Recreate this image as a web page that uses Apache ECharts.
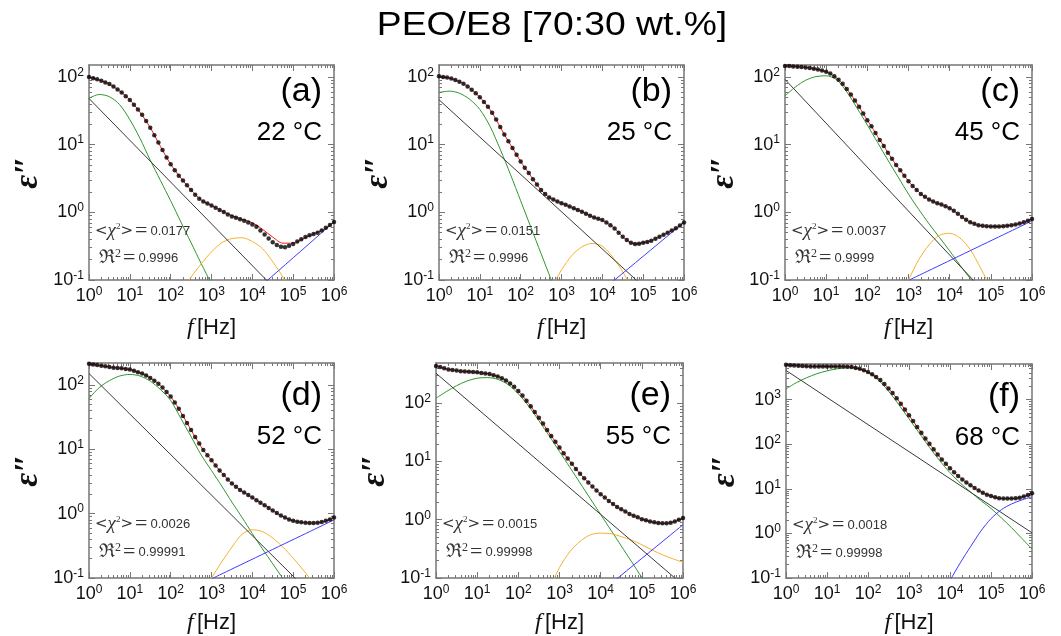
<!DOCTYPE html>
<html><head><meta charset="utf-8">
<script src="https://cdn.jsdelivr.net/npm/echarts@6/dist/echarts.min.js"></script>
<style>html,body{margin:0;padding:0;background:#fff}#c{width:1061px;height:636px}</style>
</head><body><div id="c"></div>
<script>
// ---------------- data ----------------
const freqData = [1,1.26,1.58,2,2.51,3.16,3.98,5.01,6.31,7.94,
 10,12.6,15.8,20,25.1,31.6,39.8,50.1,63.1,79.4,
 100,126,158,200,251,316,398,501,631,794,
 1000,1260,1580,2000,2510,3160,3980,5010,6310,7940,
 10000,12600,15800,20000,25100,31600,39800,50100,63100,79400,
 100000,126000,158000,200000,251000,316000,398000,501000,631000,794000,1000000];
const freqFit = [1,1.78,3.16,5.62,10,17.8,31.6,56.2,100,178,316,562,1000,1780,3160,5620,10000,17800,31600,56200,100000,178000,316000,562000,1000000];
const lineEnds = [1,1000000];

const dataA = [100,95.5,92,88,83,78.5,72.4,65.3,58.9,51.9,
 45.7,38.9,33.1,27.5,22.4,17.8,13.8,10.7,8.32,6.46,
 5.13,4.17,3.47,2.95,2.51,2.14,1.82,1.58,1.45,1.35,
 1.26,1.17,1.08,1.01,0.93,0.87,0.83,0.79,0.75,0.71,
 0.66,0.61,0.54,0.47,0.41,0.36,0.33,0.31,0.305,0.32,
 0.34,0.37,0.40,0.43,0.46,0.48,0.50,0.54,0.59,0.65,0.72];
const fitA = [100,90,78.5,62,45.7,30,17.8,9.4,5.13,3.2,2.14,1.52,1.26,1.05,0.89,0.79,0.70,0.56,0.43,0.35,0.35,0.41,0.48,0.56,0.72];
const greenA = [48.4,55,51,39,23.4,12.3,5.9,2.95,1.48,0.72,0.355,0.174,0.087,0.043,null,null,null,null,null,null,null,null,null,null,null];
const orangeA = [null,null,null,null,null,null,null,null,null,0.063,0.11,0.174,0.26,0.355,0.41,0.42,0.37,0.29,0.186,0.11,0.056,null,null,null,null];
const blackA = [48,0.0095];
const blueFreqA = [10000,1000000];
const blueA = [0.063,0.72];

const dataB = [102,100,97.7,94.4,90.2,85.1,79.4,72.4,64.6,57.5,
 50.1,42.7,36.3,29.5,23.4,18.2,14.1,11.2,8.91,7.08,
 5.62,4.57,3.80,3.09,2.57,2.14,1.86,1.66,1.55,1.45,
 1.36,1.29,1.22,1.15,1.08,1.02,0.955,0.891,0.841,0.804,
 0.767,0.708,0.646,0.575,0.501,0.437,0.389,0.355,0.339,0.343,
 0.355,0.363,0.380,0.407,0.437,0.468,0.501,0.537,0.582,0.638,0.708];
const greenB = [58.9,61.7,57.5,46.8,33.1,18.6,8.51,3.63,1.48,0.60,0.245,0.10,0.041,null,null,null,null,null,null,null,null,null,null,null,null];
const orangeB = [null,null,null,null,null,null,null,null,null,null,null,0.076,0.141,0.229,0.309,0.347,0.316,0.219,0.132,0.071,null,null,null,null,null];
const blackB = [46,0.0226];
const blueFreqB = [10000,1000000];
const blueB = [0.0708,0.71];

const dataC = [145,145,143,141,140,138,135,132,129,124,
 119,112,102,91.2,79.4,66.1,55.0,44.7,36.3,28.8,
 22.9,18.6,14.8,11.7,9.55,7.59,6.17,5.01,4.17,3.47,
 2.88,2.45,2.14,1.86,1.70,1.55,1.45,1.36,1.30,1.23,
 1.15,1.05,0.955,0.851,0.776,0.716,0.676,0.646,0.631,0.624,
 0.617,0.617,0.617,0.624,0.631,0.646,0.661,0.684,0.716,0.75,0.794];
const greenC = [52.5,70.8,89.1,101,104,91.2,60.3,34.7,19.5,10.7,5.89,3.31,1.86,1.10,0.676,0.427,0.269,0.166,0.105,0.066,null,null,null,null,null];
const orangeC = [null,null,null,null,null,null,null,null,null,null,null,0.05,0.10,0.20,0.331,0.457,0.49,0.417,0.282,0.151,0.076,null,null,null,null];
const blackC = [92,0.0118];
const blueFreqC = [1000,1000000];
const blueC = [0.0987,0.746];

const dataD = [214,209,204,200,195,191,186,184,182,178,
 174,166,158,151,141,129,117,105,91.2,77.6,
 66.1,53.7,42.7,33.1,25.7,20.0,15.5,12.3,9.77,8.13,
 6.76,5.62,4.68,3.98,3.39,2.95,2.63,2.34,2.14,1.95,
 1.78,1.62,1.48,1.35,1.23,1.12,1.02,0.933,0.871,0.813,
 0.776,0.75,0.733,0.724,0.716,0.716,0.724,0.741,0.776,0.813,0.871];
const greenD = [61.7,91.2,117,138,146,138,115,85.1,57.5,30.2,15.8,8.13,4.68,2.69,1.51,0.871,0.49,0.282,0.166,0.098,0.0575,null,null,null,null];
const orangeD = [null,null,null,null,null,null,null,null,null,null,null,0.056,0.10,0.178,0.302,0.479,0.562,0.525,0.417,0.302,0.204,0.132,0.083,null,null];
const blackD = [151,0.025];
const blueFreqD = [1000,1000000];
const blueD = [0.097,0.80];

const dataE = [437,417,398,380,372,363,355,351,347,343,
 339,331,324,316,302,288,269,245,219,191,
 162,135,110,89.1,70.8,56.2,44.7,34.7,27.5,21.9,
 17.4,13.8,11.2,9.12,7.41,6.17,5.13,4.37,3.72,3.16,
 2.75,2.40,2.09,1.86,1.66,1.51,1.38,1.26,1.17,1.10,
 1.02,0.977,0.933,0.902,0.881,0.871,0.871,0.891,0.933,1.0,1.07];
const greenE = [122,158,200,240,269,275,257,209,145,89.1,50.1,27.5,14.8,7.94,4.27,2.29,1.23,0.661,0.355,0.191,0.102,0.055,null,null,null];
const orangeE = [null,null,null,null,null,null,null,null,null,null,null,0.063,0.151,0.282,0.427,0.55,0.589,0.575,0.513,0.447,0.372,0.302,0.251,0.214,0.186];
const blackE = [327,0.076];
const blueFreqE = [10000,1000000];
const blueE = [0.0575,0.82];

const dataF = [6030,5890,5820,5750,5690,5620,5560,5560,5560,5560,
 5560,5560,5560,5560,5560,5500,5370,5130,4900,4570,
 4170,3720,3240,2750,2240,1780,1410,1070,813,603,
 447,331,245,182,135,102,77.6,58.9,45.7,36.3,
 28.8,23.4,19.5,16.2,13.8,12.0,10.5,9.12,8.13,7.41,
 6.92,6.46,6.17,6.03,6.03,6.03,6.17,6.31,6.76,7.24,7.94];
const greenF = [1740,2400,3090,3800,4420,4900,5190,5010,4070,2750,1550,776,372,178,85.1,42.7,22.9,13.5,8.51,5.5,3.63,2.24,1.35,0.776,0.447];
const blackF = [4520,1.03];
const blueF = [null,null,null,null,null,null,null,null,null,null,null,null,null,null,null,0.0316,0.087,0.219,0.501,1.12,2.14,3.39,4.57,5.62,6.61];

const panelLetters = ['(a)','(b)','(c)','(d)','(e)','(f)'];
const temps = ['22 °C','25 °C','45 °C','52 °C','55 °C','68 °C'];
const chiVals = ['0.0177','0.0151','0.0037','0.0026','0.0015','0.0018'];
const r2Vals = ['0.9996','0.9996','0.9999','0.99991','0.99998','0.99998'];
const yMax = [150,150,150,220,490,6300];
const yMajor = [0.1,1,10,100,1000];
const xMajor = [1,10,100,1000,10000,100000,1000000];
const titleText = 'PEO/E8 [70:30 wt.%]';

// ---------------- layout / styles ----------------
const layout = [
 {left:89, top:65, w:245, h:215, row:0},
 {left:439, top:65, w:245, h:215, row:0},
 {left:785, top:65, w:247, h:215, row:0},
 {left:89, top:363, w:245, h:215, row:1},
 {left:436, top:363, w:247, h:215, row:1},
 {left:786, top:364, w:246, h:215, row:1}
];
const panels = [
 {data:dataA, fit:fitA, green:greenA, orange:orangeA, black:blackA, blueF:blueFreqA, blue:blueA},
 {data:dataB, fit:null, green:greenB, orange:orangeB, black:blackB, blueF:blueFreqB, blue:blueB},
 {data:dataC, fit:null, green:greenC, orange:orangeC, black:blackC, blueF:blueFreqC, blue:blueC},
 {data:dataD, fit:null, green:greenD, orange:orangeD, black:blackD, blueF:blueFreqD, blue:blueD},
 {data:dataE, fit:null, green:greenE, orange:orangeE, black:blackE, blueF:blueFreqE, blue:blueE},
 {data:dataF, fit:null, green:greenF, orange:null, black:blackF, blueF:freqFit, blue:blueF}
];
const FRAME = '#767676';
const zip = (xs, ys) => ys.map((v,i)=>[xs[i], v]);

const xMinor = [];
[1,10,100,1000,10000,100000].forEach(b=>{for(let m=2;m<=9;m++) xMinor.push(m*b);});

const tickRich = {
  b:{fontSize:18, fontFamily:'Liberation Sans, Arial', color:'#111'},
  s:{fontSize:12, fontFamily:'Liberation Sans, Arial', color:'#111', padding:[0,0,9,0]}
};
const fmt = v => '{b|10}{s|' + Math.round(Math.log10(v)) + '}';

const annRich = {
  s:{fontFamily:'"DejaVu Serif", "Liberation Serif", serif', fontSize:15, fill:'#333'},
  c:{fontFamily:'"Liberation Serif", serif', fontStyle:'italic', fontSize:19, fill:'#333'},
  r:{fontFamily:'"DejaVu Serif", "Liberation Serif", serif', fontSize:19, fill:'#333'},
  p:{fontFamily:'"Liberation Serif", serif', fontSize:9, fill:'#333', padding:[0,0,9,0]},
  q:{fontFamily:'"Liberation Serif", serif', fontSize:12, fill:'#333', padding:[0,0,8,0]},
  e:{fontFamily:'"Liberation Serif", serif', fontSize:22, fill:'#333', padding:[0,3,0,2]},
  n:{fontFamily:'"Liberation Sans", Arial', fontSize:13, fill:'#333'}
};

const grids=[], xAxes=[], yAxes=[], series=[], graphics=[];
layout.forEach((L,i)=>{
  grids.push({left:L.left, top:L.top, width:L.w, height:L.h, show:false, containLabel:false});
  const yMaj = yMajor.filter(v=>v<=yMax[i]*1.0001);
  const yMin = [];
  [0.1,1,10,100,1000].forEach(b=>{for(let m=2;m<=9;m++){const v=m*b; if(v<yMax[i]) yMin.push(v);}});
  const base = {gridIndex:i, type:'log', logBase:10, splitLine:{show:false}};
  const xb = Object.assign({}, base, {min:1, max:1000000});
  const yb = Object.assign({}, base, {min:0.1, max:yMax[i]});
  const lineOn = {show:true, lineStyle:{color:FRAME, width:1.5}};
  const off = {show:false};
  xAxes.push(Object.assign({}, xb, {position:'bottom', axisLine:lineOn,
    axisTick:{show:true, inside:true, length:6, customValues:xMajor, lineStyle:{color:FRAME, width:1}},
    axisLabel:{show:true, customValues:xMajor, formatter:fmt, rich:tickRich, margin:6},
    name:'{i|f} {n|[Hz]}', nameLocation:'middle', nameGap: L.row===0?36:33,
    nameTextStyle:{rich:{i:{fontFamily:'Liberation Serif, serif', fontStyle:'italic', fontSize:24, color:'#111'},
                         n:{fontFamily:'Liberation Sans, Arial', fontSize:22, color:'#111'}}}}));
  xAxes.push(Object.assign({}, xb, {position:'bottom', axisLine:off,
    axisTick:{show:true, inside:true, length:3, customValues:xMinor, lineStyle:{color:FRAME, width:1}}, axisLabel:off}));
  xAxes.push(Object.assign({}, xb, {position:'top', axisLine:lineOn,
    axisTick:{show:true, inside:true, length:6, customValues:xMajor, lineStyle:{color:FRAME, width:1}}, axisLabel:off}));
  xAxes.push(Object.assign({}, xb, {position:'top', axisLine:off,
    axisTick:{show:true, inside:true, length:3, customValues:xMinor, lineStyle:{color:FRAME, width:1}}, axisLabel:off}));
  yAxes.push(Object.assign({}, yb, {position:'left', axisLine:lineOn,
    axisTick:{show:true, inside:true, length:6, customValues:yMaj, lineStyle:{color:FRAME, width:1}},
    axisLabel:{show:true, customValues:yMaj, formatter:fmt, rich:tickRich, margin:5},
    name:'ε″', nameLocation:'middle', nameRotate:90, nameGap:44,
    nameTextStyle:{fontFamily:'Liberation Serif, serif', fontStyle:'italic', fontWeight:'bold', fontSize:34, color:'#111'}}));
  yAxes.push(Object.assign({}, yb, {position:'left', axisLine:off,
    axisTick:{show:true, inside:true, length:3, customValues:yMin, lineStyle:{color:FRAME, width:1}}, axisLabel:off}));
  yAxes.push(Object.assign({}, yb, {position:'right', axisLine:lineOn,
    axisTick:{show:true, inside:true, length:6, customValues:yMaj, lineStyle:{color:FRAME, width:1}}, axisLabel:off}));
  yAxes.push(Object.assign({}, yb, {position:'right', axisLine:off,
    axisTick:{show:true, inside:true, length:3, customValues:yMin, lineStyle:{color:FRAME, width:1}}, axisLabel:off}));

  const P = panels[i];
  const ax = {xAxisIndex:i*4, yAxisIndex:i*4};
  const ln = (name, d, color, z, smooth) => Object.assign({type:'line', name, data:d, symbol:'none', smooth:smooth,
     lineStyle:{color, width:1}, itemStyle:{color}, z, silent:true, animation:false}, ax);
  series.push(ln('green', zip(freqFit, P.green), '#2e962e', 2, 0.3));
  if (P.orange) series.push(ln('orange', zip(freqFit, P.orange), '#f5b030', 2, 0.3));
  series.push(ln('black', zip(lineEnds, P.black), '#3a3a3a', 2, false));
  series.push(ln('blue', zip(P.blueF, P.blue), '#3c3cff', 2, 0.3));
  series.push(ln('fit', P.fit ? zip(freqFit, P.fit) : zip(freqData, P.data), '#ff1010', 3, 0.3));
  series.push(Object.assign({type:'scatter', name:'data', data:zip(freqData, P.data), symbol:'circle', symbolSize:4.5,
     itemStyle:{color:'#000'}, z:4, silent:true, animation:false}, ax));

  const rx = L.left + L.w - 12;
  const dy = L.row===0 ? 0 : 6;
  graphics.push({type:'text', z:10, style:{text:panelLetters[i], x:rx, y:L.top+27+dy, align:'right', verticalAlign:'middle',
     font:'34px "Liberation Sans", Arial', fill:'#000'}});
  graphics.push({type:'text', z:10, style:{text:temps[i], x:rx, y:L.top+68+dy, align:'right', verticalAlign:'middle',
     font:'26px "Liberation Sans", Arial', fill:'#000'}});
  graphics.push({type:'text', z:10, style:{text:'{s|<}{c|χ}{p|2}{s|>}{e|=}{n|'+chiVals[i]+'}', x:L.left+6, y:L.top+(L.row===0?166:161),
     verticalAlign:'middle', rich:annRich}});
  graphics.push({type:'text', z:10, style:{text:'{r|ℜ}{q|2}{e|=}{n|'+r2Vals[i]+'}', x:L.left+10, y:L.top+(L.row===0?193:189),
     verticalAlign:'middle', rich:annRich}});
});
graphics.push({type:'text', z:10, x:552, y:26, scaleX:1.13, scaleY:1, style:{text:titleText, x:0, y:0, align:'center', verticalAlign:'middle',
   font:'33px "Liberation Sans", Arial', fill:'#000'}});

const chart = echarts.init(document.getElementById('c'), null, {renderer:'canvas'});
chart.setOption({animation:false, backgroundColor:'#fff', grid:grids, xAxis:xAxes, yAxis:yAxes, series, graphic:graphics});
</script></body></html>
